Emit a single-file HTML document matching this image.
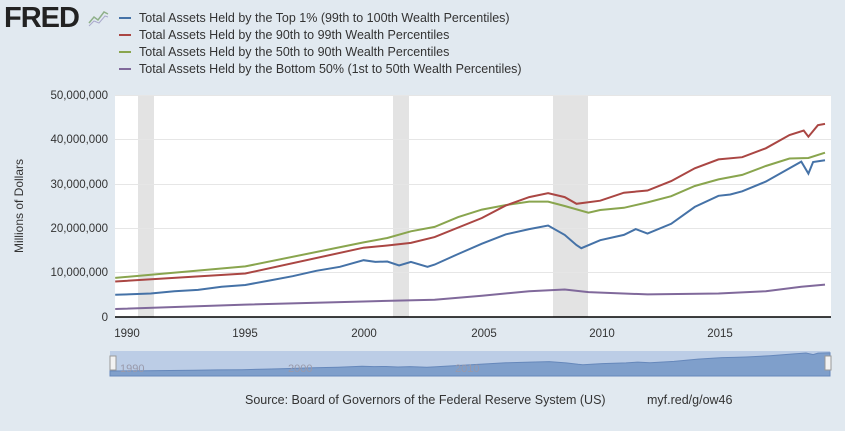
<!DOCTYPE html>
<html><head><meta charset="utf-8"><style>
body{margin:0;width:845px;height:426px;background:#e1e9f0;overflow:hidden;font-family:"Liberation Sans",sans-serif}
</style></head><body>
<svg id="s" width="845" height="426" xmlns="http://www.w3.org/2000/svg" font-family="Liberation Sans, sans-serif">
<rect width="845" height="426" fill="#e1e9f0"/>
<text x="4" y="27" font-size="29" font-weight="bold" fill="#222" letter-spacing="-1">FRED</text>
<polyline points="89,23 94,17 98,20 104,12 108,14" fill="none" stroke="#8fb08a" stroke-width="1.5"/>
<polyline points="89,26 94,21 99,23 105,16 108,17" fill="none" stroke="#aac" stroke-width="1"/>
<g font-size="12.5" fill="#333">
<line x1="119" y1="18" x2="131" y2="18" stroke="#4572a7" stroke-width="2"/><text x="139" y="22">Total Assets Held by the Top 1% (99th to 100th Wealth Percentiles)</text>
<line x1="119" y1="35" x2="131" y2="35" stroke="#aa4643" stroke-width="2"/><text x="139" y="39">Total Assets Held by the 90th to 99th Wealth Percentiles</text>
<line x1="119" y1="52" x2="131" y2="52" stroke="#89a54e" stroke-width="2"/><text x="139" y="56">Total Assets Held by the 50th to 90th Wealth Percentiles</text>
<line x1="119" y1="69" x2="131" y2="69" stroke="#80699b" stroke-width="2"/><text x="139" y="73">Total Assets Held by the Bottom 50% (1st to 50th Wealth Percentiles)</text>
</g>
<rect x="115" y="95" width="716" height="222" fill="#fff"/>
<rect x="138" y="95" width="16" height="222" fill="#e3e3e3"/>
<rect x="393" y="95" width="16" height="222" fill="#e3e3e3"/>
<rect x="553" y="95" width="35" height="222" fill="#e3e3e3"/>
<g stroke="#e6e6e6" stroke-width="1">
<line x1="115" y1="95.5" x2="831" y2="95.5"/><line x1="115" y1="139.5" x2="831" y2="139.5"/><line x1="115" y1="184.5" x2="831" y2="184.5"/><line x1="115" y1="228.5" x2="831" y2="228.5"/><line x1="115" y1="272.5" x2="831" y2="272.5"/>
</g>
<line x1="115" y1="317" x2="831" y2="317" stroke="#000" stroke-width="1.5"/>
<g font-size="11.5" fill="#333" text-anchor="end">
<text x="108" y="99">50,000,000</text><text x="108" y="143">40,000,000</text><text x="108" y="188">30,000,000</text><text x="108" y="232">20,000,000</text><text x="108" y="276">10,000,000</text><text x="108" y="321">0</text>
</g>
<text transform="translate(23,206) rotate(-90)" font-size="12" fill="#333" text-anchor="middle">Millions of Dollars</text>
<g font-size="11.5" fill="#333" text-anchor="middle">
<text x="127" y="337">1990</text><text x="245" y="337">1995</text><text x="364" y="337">2000</text><text x="484" y="337">2005</text><text x="602" y="337">2010</text><text x="720" y="337">2015</text>
</g>
<g id="lines"></g>
<rect x="110" y="351" width="720" height="25" fill="#bccde6"/>
<path id="nav" fill="#7f9fcb" stroke="#6688bb"/>
<g font-size="11" fill="#99a" ><text x="120" y="372">1990</text><text x="288" y="372">2000</text><text x="455" y="372">2010</text></g>
<rect x="110" y="356" width="6" height="14" fill="#f2f2f2" stroke="#999"/>
<rect x="825" y="356" width="6" height="14" fill="#f2f2f2" stroke="#999"/>
<text x="245" y="404" font-size="12.5" fill="#333">Source: Board of Governors of the Federal Reserve System (US)</text>
<text x="647" y="404" font-size="12.5" fill="#333">myf.red/g/ow46</text>
</svg>
<script>
var X=function(t){return 127+(t-1990)*23.66},Y=function(v){return 317-v*4.44};
var S=[
["#89a54e",[[1989.5,8.8],[1995,11.4],[2000,16.8],[2001,17.8],[2002,19.3],[2003,20.3],[2004,22.5],[2005,24.2],[2006,25.2],[2007,26],[2007.8,26],[2008.5,25],[2009.5,23.5],[2010,24.1],[2011,24.6],[2012,25.8],[2013,27.2],[2014,29.5],[2015,31],[2016,32],[2017,34],[2018,35.7],[2018.8,35.8],[2019.5,37]]],
["#aa4643",[[1989.5,8],[1995,9.8],[2000,15.6],[2001,16.1],[2002,16.7],[2003,18],[2005,22.3],[2006,25.1],[2007,27],[2007.8,27.9],[2008.5,27],[2009,25.5],[2010,26.2],[2011,28],[2012,28.5],[2013,30.6],[2014,33.5],[2015,35.5],[2016,36],[2017,38],[2018,41],[2018.6,42],[2018.8,40.6],[2019.2,43.2],[2019.5,43.5]]],
["#80699b",[[1989.5,1.8],[1995,2.8],[2000,3.5],[2003,3.9],[2005,4.8],[2007,5.8],[2008.5,6.2],[2009.5,5.6],[2012,5.1],[2015,5.3],[2017,5.8],[2018.5,6.8],[2019.5,7.3]]],
["#4572a7",[[1989.5,5],[1991,5.3],[1992,5.8],[1993,6.1],[1994,6.8],[1995,7.2],[1996,8.2],[1997,9.2],[1998,10.4],[1999,11.3],[2000,12.8],[2000.5,12.4],[2001,12.5],[2001.5,11.6],[2002,12.4],[2002.7,11.3],[2003,11.8],[2004,14.2],[2005,16.5],[2006,18.6],[2007,19.8],[2007.8,20.6],[2008.5,18.5],[2009,16.2],[2009.2,15.5],[2010,17.3],[2011,18.5],[2011.5,19.8],[2012,18.8],[2013,21],[2014,24.8],[2015,27.3],[2015.5,27.6],[2016,28.3],[2017,30.5],[2018,33.5],[2018.5,35],[2018.8,32.3],[2019,34.9],[2019.5,35.3]]]];
var g=document.getElementById('lines'),h='';
S.forEach(function(s){h+='<polyline fill="none" stroke-width="2" stroke="'+s[0]+'" points="'+s[1].map(function(p){return X(p[0]).toFixed(1)+','+Y(p[1]).toFixed(1)}).join(' ')+'"/>'});
g.innerHTML=h;
var t=S[3][1],d='M110,376 ';t.forEach(function(p){d+='L'+(110+(p[0]-1989.5)*24).toFixed(1)+','+(374-p[1]*0.6).toFixed(1)+' '});d+='L830,376Z';
document.getElementById('nav').setAttribute('d',d);
</script>
</body></html>
